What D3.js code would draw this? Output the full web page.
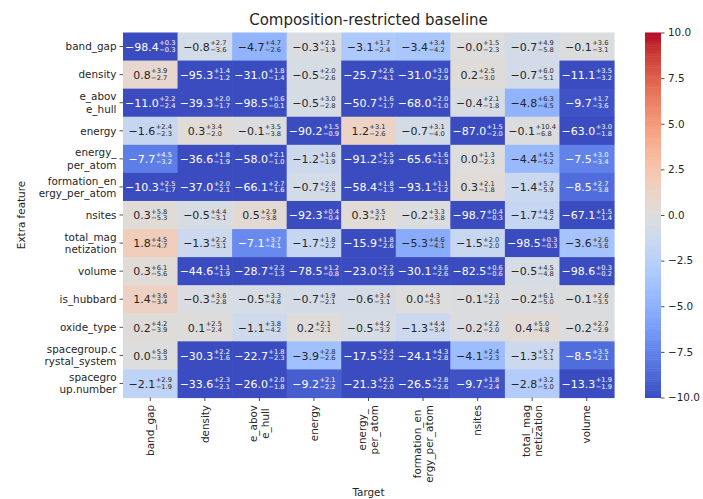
<!DOCTYPE html>
<html><head><meta charset="utf-8">
<script src="https://cdn.jsdelivr.net/npm/d3@7"></script>
<style>body{margin:0;background:#fff}svg{display:block;font-family:"DejaVu Sans",sans-serif}</style>
</head><body><svg id="c" width="703" height="499"></svg>
<script>
const rowLabels = ["band_gap","density","e_abov\ne_hull","energy","energy_\nper_atom","formation_en\nergy_per_atom","nsites","total_mag\nnetization","volume","is_hubbard","oxide_type","spacegroup.c\nrystal_system","spacegro\nup.number"];
const colLabels = ["band_gap","density","e_abov\ne_hull","energy","energy_\nper_atom","formation_en\nergy_per_atom","nsites","total_mag\nnetization","volume"];
const values = [
  [-98.4,-0.8,-4.7,-0.3,-3.1,-3.4,-0.0,-0.7,-0.1],
  [0.8,-95.3,-31.0,-0.5,-25.7,-31.0,0.2,-0.7,-11.1],
  [-11.0,-39.3,-98.5,-0.5,-50.7,-68.0,-0.4,-4.8,-9.7],
  [-1.6,0.3,-0.1,-90.2,1.2,-0.7,-87.0,-0.1,-63.0],
  [-7.7,-36.6,-58.0,-1.2,-91.2,-65.6,0.0,-4.4,-7.5],
  [-10.3,-37.0,-66.1,-0.7,-58.4,-93.1,0.3,-1.4,-8.5],
  [0.3,-0.5,0.5,-92.3,0.3,-0.2,-98.7,-1.7,-67.1],
  [1.8,-1.3,-7.1,-1.7,-15.9,-5.3,-1.5,-98.5,-3.6],
  [0.3,-44.6,-28.7,-78.5,-23.0,-30.1,-82.5,-0.5,-98.6],
  [1.4,-0.3,-0.5,-0.7,-0.6,0.0,-0.1,-0.2,-0.1],
  [0.2,0.1,-1.1,0.2,-0.5,-1.3,-0.2,0.4,-0.2],
  [0.0,-30.3,-22.7,-3.9,-17.5,-24.1,-4.1,-1.3,-8.5],
  [-2.1,-33.6,-26.0,-9.2,-21.3,-26.5,-9.7,-2.8,-13.3]
];
const errPlus = [
  [0.3,2.7,4.7,2.1,1.7,3.4,1.5,4.9,3.6],
  [3.9,1.4,1.8,2.0,2.6,3.0,2.5,6.0,3.5],
  [2.2,2.0,0.6,3.0,1.6,2.0,2.1,6.3,1.7],
  [2.4,3.4,3.5,1.5,3.1,3.1,1.5,10.4,3.0],
  [4.5,1.8,2.1,1.6,1.5,1.6,1.3,4.5,3.0],
  [2.5,2.0,2.7,2.8,1.8,1.1,2.1,5.7,2.7],
  [5.8,4.4,2.9,0.4,3.5,3.3,0.4,4.8,1.5],
  [4.5,2.2,3.7,1.8,1.8,4.6,2.0,0.3,2.6],
  [6.1,1.1,2.2,1.2,2.2,3.6,0.6,4.5,0.3],
  [3.6,3.6,3.3,1.9,3.4,4.3,2.1,6.1,2.6],
  [4.2,2.5,3.8,2.1,4.2,4.4,2.2,5.0,2.7],
  [5.8,2.2,1.8,2.8,2.4,4.3,2.4,5.7,3.5],
  [2.9,2.3,2.0,2.1,2.2,2.8,1.8,3.2,1.9]
];
const errMinus = [
  [0.3,3.6,2.6,1.9,2.4,4.2,2.3,5.8,3.1],
  [2.7,1.2,1.4,2.6,4.1,2.9,3.0,5.1,3.2],
  [2.4,1.7,0.1,2.8,1.7,1.0,1.8,4.5,3.6],
  [2.3,2.0,3.8,0.9,2.6,4.0,2.0,6.8,1.8],
  [3.2,1.9,1.0,1.9,2.9,1.3,2.3,5.2,3.4],
  [1.7,2.1,1.6,2.5,1.3,1.2,1.8,5.9,3.8],
  [5.3,3.1,3.8,0.4,2.1,3.8,0.3,4.2,1.4],
  [4.7,3.1,4.1,2.2,2.6,4.1,2.0,0.3,3.6],
  [5.6,1.9,1.3,0.8,1.9,2.6,0.6,4.8,0.2],
  [3.4,2.8,4.6,2.1,3.1,5.3,2.0,5.0,3.5],
  [3.9,2.4,4.2,2.1,3.2,3.4,2.0,4.8,2.9],
  [3.3,1.6,2.3,2.6,2.2,2.8,2.3,5.1,2.1],
  [1.9,2.1,1.8,2.2,2.0,2.6,2.4,5.0,1.9]
];
const cbTicks = [-10,-7.5,-5,-2.5,0,2.5,5,7.5,10];
const titleText = "Composition-restricted baseline";
const xTitle = "Target";
const yTitle = "Extra feature";

// matplotlib coolwarm control points
const cw = [[0.2298057,0.298717966,0.753683153],[0.26623388,0.353094838,0.801466763],[0.30386891,0.406535296,0.84495867],[0.342804478,0.458757618,0.883725899],[0.38301334,0.50941904,0.917387822],[0.424369608,0.558148092,0.945619588],[0.46666708,0.604562568,0.968154911],[0.509635204,0.648280772,0.98478814],[0.552953156,0.688929332,0.995375608],[0.596262162,0.726149107,0.999836203],[0.639176211,0.759599947,0.998151185],[0.681291281,0.788964712,0.990363227],[0.722193294,0.813952739,0.976574709],[0.761464949,0.834302879,0.956945269],[0.798691636,0.849786142,0.931688648],[0.833466556,0.860207984,0.901068838],[0.865395197,0.86541021,0.865395561],[0.897787179,0.848937047,0.820880546],[0.924127593,0.827384882,0.774508472],[0.944468518,0.800927443,0.726736146],[0.958852946,0.769767752,0.678007945],[0.96732803,0.734132809,0.628751763],[0.969954137,0.694266682,0.579375448],[0.966811177,0.650421156,0.530263762],[0.958003065,0.602842431,0.481775914],[0.943660866,0.551750968,0.434243684],[0.923944917,0.49730856,0.387970225],[0.89904617,0.439559467,0.343229596],[0.869186849,0.378313092,0.300267182],[0.834620542,0.312874446,0.259301199],[0.795631745,0.24128379,0.220525627],[0.752534934,0.157246067,0.184115123],[0.705673158,0.01555616,0.150232812]];
function coolwarmRGB(t){
  t=Math.max(0,Math.min(1,t));
  const p=t*32, i=Math.min(31,Math.floor(p)), f=p-i;
  return [0,1,2].map(k=>cw[i][k]+(cw[i+1][k]-cw[i][k])*f);
}
const toCss = c => `rgb(${c.map(v=>Math.round(v*255)).join(",")})`;
function lum(c){
  const l=c.map(v=> v<=0.03928? v/12.92 : Math.pow((v+0.055)/1.055,2.4));
  return 0.2126*l[0]+0.7152*l[1]+0.0722*l[2];
}
const norm = d3.scaleLinear().domain([-10,10]).range([0,1]).clamp(true);
const fmt = v => ((v<0||Object.is(v,-0)) ? "\u2212" : "") + Math.abs(v).toFixed(1);

const svg = d3.select("#c");
const L=123, R=614, T=32.5, B=397.5;
const x = d3.scaleBand().domain(d3.range(colLabels.length)).range([L,R]);
const y = d3.scaleBand().domain(d3.range(rowLabels.length)).range([T,B]);
const txt="#262626";
const fs=10.4, afs=11, sfs=6.7;

// cells
const cells=[];
values.forEach((row,i)=>row.forEach((v,j)=>cells.push({i,j,v,p:errPlus[i][j],m:errMinus[i][j]})));
svg.append("g").selectAll("rect").data(cells).join("rect")
  .attr("x",d=>x(d.j)).attr("y",d=>y(d.i))
  .attr("width",x.bandwidth()+0.6).attr("height",y.bandwidth()+0.6)
  .attr("fill",d=>toCss(coolwarmRGB(norm(d.v))));

// annotations: one text element per cell, with tspans for the scripts
svg.append("g").selectAll("text").data(cells).join("text").each(function(d){
  const t=d3.select(this);
  const col = lum(coolwarmRGB(norm(d.v)))>0.408 ? txt : "#ffffff";
  t.attr("fill",col);
  const cx=x(d.j)+x.bandwidth()/2, cy=y(d.i)+y.bandwidth()/2;
  const base=cy+4.2;
  const m=t.append("tspan").attr("font-size",afs).attr("y",base).text(fmt(d.v));
  const sp=t.append("tspan").attr("font-size",sfs).attr("y",base-5.6).text("+"+d.p.toFixed(1));
  const sb=t.append("tspan").attr("font-size",sfs).attr("y",base+0.9).text("\u2212"+d.m.toFixed(1));
  const mw=m.node().getComputedTextLength();
  const sw=Math.max(sp.node().getComputedTextLength(),sb.node().getComputedTextLength());
  const x0=cx-(mw+0.4+sw)/2;
  m.attr("x",x0); sp.attr("x",x0+mw+0.4); sb.attr("x",x0+mw+0.4);
});

// y axis
const lh=fs*1.18;
const yt=svg.append("g");
rowLabels.forEach((lab,i)=>{
  const cy=y(i)+y.bandwidth()/2;
  yt.append("line").attr("x1",L-3.5).attr("x2",L).attr("y1",cy).attr("y2",cy).attr("stroke",txt).attr("stroke-width",0.8);
  const lines=lab.split("\n");
  lines.forEach((ln,k)=>{
    yt.append("text").attr("x",L-6.5).attr("y",cy+(k-(lines.length-1)/2)*lh).attr("dy","0.36em")
      .attr("text-anchor","end").attr("font-size",fs).attr("fill",txt).text(ln);
  });
});
// x axis
const xt=svg.append("g");
colLabels.forEach((lab,j)=>{
  const cx=x(j)+x.bandwidth()/2;
  xt.append("line").attr("x1",cx).attr("x2",cx).attr("y1",B).attr("y2",B+3.5).attr("stroke",txt).attr("stroke-width",0.8);
  const lines=lab.split("\n");
  const g=xt.append("g").attr("transform",`translate(${cx},${B+7.5}) rotate(-90)`);
  const ts=lines.map((ln,k)=>g.append("text").attr("y",(k-(lines.length-1)/2)*lh).attr("dy","0.36em")
      .attr("text-anchor","middle").attr("font-size",fs).attr("fill",txt).text(ln));
  const W=d3.max(ts,t=>t.node().getComputedTextLength());
  ts.forEach(t=>t.attr("x",-W/2));
});

// titles
svg.append("text").attr("x",(L+R)/2).attr("y",25).attr("text-anchor","middle").attr("font-size",15).attr("fill",txt).text(titleText);
svg.append("text").attr("x",(L+R)/2).attr("y",496).attr("text-anchor","middle").attr("font-size",fs).attr("fill",txt).text(xTitle);
svg.append("text").attr("transform",`translate(25,${(T+B)/2}) rotate(-90)`).attr("text-anchor","middle").attr("font-size",fs).attr("fill",txt).text(yTitle);

// colorbar
const cbL=645, cbW=16;
const cs=d3.scaleLinear().domain([-10,10]).range([B,T]);
const nSteps=200;
svg.append("g").selectAll("rect").data(d3.range(nSteps)).join("rect")
  .attr("x",cbL).attr("width",cbW)
  .attr("y",k=>cs(-10+20*(k+1)/nSteps)).attr("height",(B-T)/nSteps+0.5)
  .attr("fill",k=>toCss(coolwarmRGB((k+0.5)/nSteps)));
const cbAxis=d3.axisRight(cs).tickValues(cbTicks).tickSize(3.5).tickPadding(3.5)
  .tickFormat(v=>(v<0?"\u2212":"")+Math.abs(v).toFixed(1));
const ca=svg.append("g").attr("transform",`translate(${cbL+cbW},0)`).call(cbAxis);
ca.select(".domain").remove();
ca.selectAll("text").attr("font-size",fs).attr("fill",txt).attr("font-family","DejaVu Sans");
ca.selectAll("line").attr("stroke",txt).attr("stroke-width",0.8);
</script></body></html>
